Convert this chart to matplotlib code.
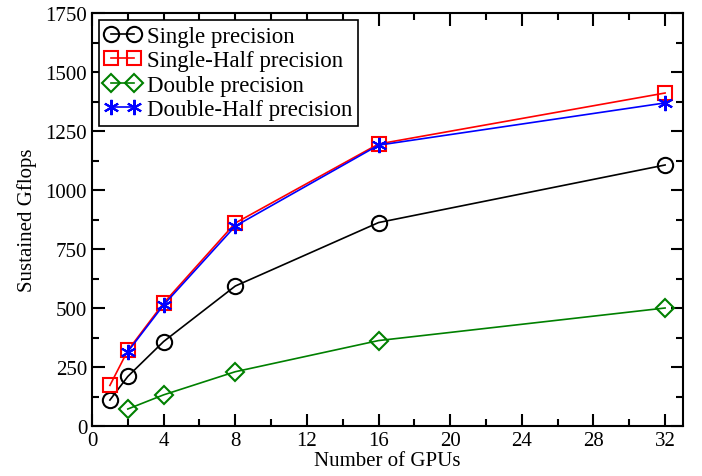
import matplotlib
matplotlib.use("Agg")
import matplotlib.pyplot as plt
from matplotlib.ticker import MultipleLocator

gpus_single = [1, 2, 4, 8, 16, 32]
single = [110, 210, 358, 593, 862, 1106]
single_half = [172, 320, 521, 860, 1195, 1411]

gpus_double = [2, 4, 8, 16, 32]
double = [72, 132, 230, 362, 500]
double_half = [315, 513, 847, 1190, 1369]

plt.rcParams['font.family'] = ['Liberation Serif', 'DejaVu Serif']

fig = plt.figure(figsize=(7.02, 4.77), dpi=100)
ax = fig.add_axes([92 / 702, 1 - 427 / 477, 591 / 702, 413 / 477])

ax.plot(gpus_single, single, color='black', marker='o', ms=11, mfc='none',
        mew=1.5, lw=1.2, label='Single precision')
ax.plot(gpus_single, single_half, color='red', marker='s', ms=10, mfc='none',
        mew=1.5, lw=1.2, label='Single-Half precision')
ax.plot(gpus_double, double, color='green', marker='D', ms=9, mfc='none',
        mew=1.5, lw=1.2, label='Double precision')
ax.plot(gpus_double, double_half, color='blue', marker=(6, 2, 0), ms=11,
        mew=1.5, lw=1.2, label='Double-Half precision')

ax.set_xlim(0, 33)
ax.set_ylim(0, 1750)
ax.xaxis.set_major_locator(MultipleLocator(4))
ax.xaxis.set_minor_locator(MultipleLocator(2))
ax.yaxis.set_major_locator(MultipleLocator(250))
ax.yaxis.set_minor_locator(MultipleLocator(125))
ax.tick_params(which='both', direction='in', top=True, right=True,
               labelsize=15, width=1.5)
ax.tick_params(which='major', length=9)
ax.tick_params(which='minor', length=5)
for s in ax.spines.values():
    s.set_linewidth(1.5)

ax.set_xlabel('Number of GPUs', fontsize=15, labelpad=1)
ax.set_ylabel('Sustained Gflops', fontsize=15, labelpad=6)

leg = ax.legend(loc='upper left', fontsize=16.5, fancybox=False, framealpha=1,
                edgecolor='black', numpoints=2, handlelength=1.6,
                handletextpad=0.25, borderpad=0.25, labelspacing=0.15,
                borderaxespad=0.3)
leg.get_frame().set_linewidth(1.2)

fig.savefig('out.png', dpi=100)
